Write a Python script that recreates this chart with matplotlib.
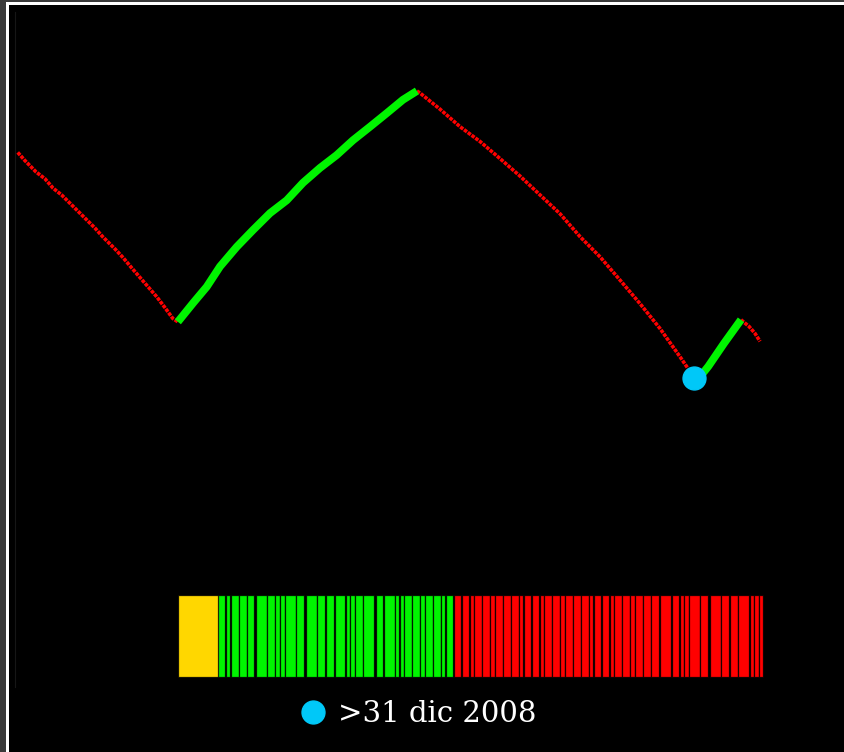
import matplotlib
matplotlib.use("Agg")
import matplotlib.pyplot as plt
from matplotlib.patches import Rectangle

# ---------------- data ----------------
# price curve, x in trading days, y in index value; split by trend colour
days_r1 = [0.8, 2.9, 6.2, 8.8, 11.2, 13.7, 17.1, 20.9, 23.5, 25.8, 29.4, 31.8, 34.3, 37.9, 41.7, 44.1, 46.4, 47.9]
vals_r1 = [79.2, 78.0, 76.3, 75.3, 73.9, 72.9, 71.2, 69.3, 68.0, 66.7, 64.9, 63.6, 62.1, 60.0, 57.8, 56.2, 54.6, 54.1]

days_g1 = [47.9, 52.4, 56.4, 60.3, 65.2, 70.0, 75.0, 79.9, 84.7, 89.7, 94.6, 99.4, 104.4, 109.3, 114.1, 118.2]
vals_g1 = [54.1, 56.9, 59.3, 62.3, 65.2, 67.7, 70.2, 72.1, 74.7, 76.9, 78.8, 81.0, 83.0, 85.0, 87.0, 88.3]

days_r2 = [118.2, 119.1, 125.0, 130.9, 136.8, 142.6, 148.5, 154.4, 160.3, 166.2, 172.1, 177.9, 183.8, 189.7, 195.6, 199.8]
vals_r2 = [88.3, 88.0, 85.6, 83.0, 80.8, 78.3, 75.7, 72.9, 70.1, 66.7, 63.7, 60.3, 56.8, 53.1, 48.9, 45.8]

days_g2 = [199.8, 201.2, 203.9, 208.5, 213.5]
vals_g2 = [45.8, 45.8, 47.5, 50.9, 54.4]

days_r3 = [213.5, 215.9, 217.6, 219.1]
vals_r3 = [54.4, 53.4, 52.4, 51.2]

# highlighted point
mark_day = [199.8]
mark_val = [45.8]
mark_label = ">31 dic 2008"

# trend strip: start / end of every stripe, and how many of each colour
strip_start = [0,
               40, 48, 53, 61, 69, 78, 89, 97, 102, 107, 118, 128, 139, 148, 157,
               168, 172, 177, 185, 198, 206, 217, 222, 226, 234, 242, 247, 255, 263, 268,
               276, 284, 292, 296, 304, 312, 317, 325, 333, 341, 346, 354, 362, 366,
               374, 382, 387, 395, 403, 411, 416, 424, 432, 436, 444, 452, 457, 465,
               473, 482, 494, 502, 506, 511, 522, 532, 543, 552, 560, 572, 576, 581]
strip_end = [40,
             46, 51, 60, 68, 75, 88, 96, 101, 106, 117, 125, 138, 146, 155, 166,
             171, 176, 184, 195, 204, 216, 220, 225, 233, 241, 246, 254, 262, 266, 274,
             282, 290, 295, 303, 311, 316, 324, 332, 340, 344, 352, 360, 365, 373,
             381, 386, 394, 402, 410, 414, 422, 430, 435, 443, 451, 456, 464, 472,
             480, 492, 500, 505, 510, 521, 529, 542, 550, 559, 570, 575, 580, 584]
strip_counts = {"neutral": 1, "up": 30, "down": 42}

# ---------------- style ----------------
RED = "#ff0000"
GREEN = "#00f500"
YELLOW = "#ffd700"
CYAN = "#00c8f8"
strip_colors = {"neutral": YELLOW, "up": GREEN, "down": RED}

W, H = 844, 752
fig = plt.figure(figsize=(W / 100, H / 100), dpi=100, facecolor="black")


def fx(px):
    return px / W


def fy(py):
    return 1 - py / H


# window frame (grey outer, white inner band on top and left)
fig.patches.extend([
    Rectangle((0, fy(2)), 1, 2 / H, transform=fig.transFigure, fc="#3a3a3a", ec="none", zorder=0),
    Rectangle((0, 0), 6 / W, 1, transform=fig.transFigure, fc="#3a3a3a", ec="none", zorder=0),
    Rectangle((fx(6), fy(5)), 1, 3 / H, transform=fig.transFigure, fc="white", ec="none", zorder=0),
    Rectangle((fx(6), 0), 3 / W, fy(2), transform=fig.transFigure, fc="white", ec="none", zorder=0),
])

# main price axes
ax = fig.add_axes([fx(15), fy(687), fx(844) - fx(15), (687 - 12) / H])
ax.set_facecolor("black")
ax.set_xlim(0, 243.8)
ax.set_ylim(0, 100)
ax.set_xticks([])
ax.set_yticks([])
for s in ["top", "right", "bottom"]:
    ax.spines[s].set_visible(False)
ax.spines["left"].set_color("#161616")
ax.spines["left"].set_linewidth(0.8)

red_kw = dict(color=RED, lw=2.6, linestyle=(0, (1.0, 0.3)), dash_capstyle="butt", zorder=2)
green_kw = dict(color=GREEN, lw=5.6, solid_capstyle="butt", solid_joinstyle="round", zorder=3)

ax.plot(days_r1, vals_r1, **red_kw)
ax.plot(days_r2, vals_r2, **red_kw)
ax.plot(days_r3, vals_r3, **red_kw)
ax.plot(days_g1, vals_g1, **green_kw)
ax.plot(days_g2, vals_g2, **green_kw)

(dot,) = ax.plot(mark_day, mark_val, linestyle="none", marker="o", markersize=16.5,
                 markerfacecolor=CYAN, markeredgecolor=CYAN, zorder=5, label=mark_label)

# trend strip
bax = fig.add_axes([fx(178), fy(677), (763 - 178) / W, (677 - 595) / H])
bax.set_xlim(0, 585)
bax.set_ylim(0, 1)
bax.axis("off")
colors = []
for k, n in strip_counts.items():
    colors += [strip_colors[k]] * n
widths = [e - s + 1 for s, e in zip(strip_start, strip_end)]
lefts = [s - 0.5 for s in strip_start]
bax.bar(lefts, [1] * len(lefts), width=widths, align="edge", color=colors,
        edgecolor=(0, 0, 0, 0.8), linewidth=0.9, clip_on=False)

# legend
leg = fig.legend(handles=[dot], loc="center left", bbox_to_anchor=(fx(298.5), fy(714)),
                 frameon=False, borderpad=0, borderaxespad=0, handlelength=1.0,
                 handletextpad=0.35, prop={"family": "DejaVu Serif", "size": 21})
for t in leg.get_texts():
    t.set_color("white")

fig.savefig("out.png", dpi=100, facecolor="black")
